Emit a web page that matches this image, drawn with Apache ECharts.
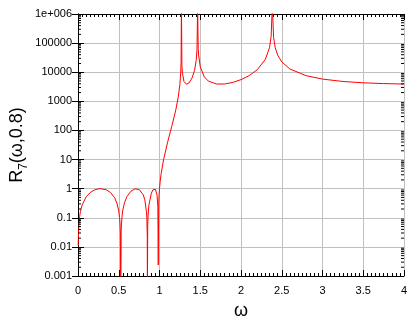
<!DOCTYPE html>
<html><head><meta charset="utf-8">
<script src="https://cdn.jsdelivr.net/npm/echarts@6/dist/echarts.min.js"></script>
<style>html,body{margin:0;padding:0;background:#fff}#c{width:420px;height:320px}</style>
</head><body><div id="c"></div>
<script>
// omega values (x) and |R_7(omega,0.8)| values (y)
const omega = [0.002,0.01,0.02,0.03,0.05,0.1,0.15,0.2,0.25,0.28,0.3,0.35,0.4,0.45,0.48,0.5,0.51,0.515,0.52,0.5243,0.53,0.54,0.55,0.57,0.6,0.65,0.7,0.72,0.75,0.8,0.82,0.84,0.845,0.85,0.8516,0.855,0.86,0.87,0.9,0.92,0.94,0.95,0.96,0.97,0.98,0.985,0.99,0.995,1.0,1.01,1.02,1.05,1.1,1.15,1.2,1.23,1.25,1.26,1.265,1.2689,1.275,1.28,1.3,1.33,1.35,1.36,1.4,1.43,1.45,1.46,1.4678,1.475,1.48,1.5,1.55,1.6,1.7,1.8,1.9,2.0,2.1,2.2,2.3,2.35,2.37,2.3842,2.4,2.42,2.45,2.5,2.6,2.8,3.0,3.25,3.5,3.75,4.0];
const R7 = [0.011,0.055,0.11,0.164,0.271,0.523,0.737,0.895,0.983,0.997,0.989,0.908,0.738,0.486,0.302,0.169,0.101,0.066,0.030,0.0002,0.041,0.112,0.184,0.327,0.534,0.823,0.984,0.994,0.938,0.621,0.412,0.161,0.093,0.023,0.0002,0.049,0.122,0.270,0.699,0.915,0.994,0.949,0.824,0.598,0.242,0.0024,0.277,0.610,1.0,1.98,3.27,9.91,39.6,136,509,1400,3846,9431,23137,2e6,17068,10086,4823,3867,4016,4233,6369,11594,25266,58658,2e6,65135,38862,15400,6872,4958,3931,3942,4473,5569,7654,12221,27975,70503,171634,2e6,156762,69963,38718,22691,12926,7590,5804,4809,4324,4068,3933];
const xTickValues = [0,0.5,1,1.5,2,2.5,3,3.5,4];
const yTickLabels = ['0.001','0.01','0.1','1','10','100','1000','10000','100000','1e+006'];

const yMinorTicks = [];
for (let d = -3; d < 6; d++) for (let k = 2; k <= 9; k++) yMinorTicks.push([0, +(k * Math.pow(10, d)).toPrecision(3)]);

const FONT = 'Liberation Sans, Arial, sans-serif';
const chart = echarts.init(document.getElementById('c'), null, {renderer: 'canvas'});

const xCommon = {
  type: 'value', min: 0, max: 4, interval: 0.5,
  axisLine: {show: true, lineStyle: {color: '#000', width: 1}},
  axisTick: {show: true, inside: true, length: 6, lineStyle: {color: '#000'}},
  minorTick: {show: true, splitNumber: 10, length: 3, lineStyle: {color: '#000'}},
};
const yCommon = {
  type: 'log', logBase: 10, min: 0.001, max: 1e6, interval: 1,
  axisLine: {show: true, lineStyle: {color: '#000', width: 1}},
  axisTick: {show: true, inside: true, length: 6, lineStyle: {color: '#000'}},
};

chart.setOption({
  animation: false,
  backgroundColor: '#fff',
  grid: {left: 78, right: 16, top: 14, bottom: 44, containLabel: false, outerBoundsMode: 'none'},
  xAxis: [
    Object.assign({}, xCommon, {
      position: 'bottom',
      axisLabel: {show: true, color: '#000', fontFamily: FONT, fontSize: 11, margin: 9,
        formatter: v => { const i = xTickValues.indexOf(+v.toFixed(2)); return i < 0 ? '' : String(xTickValues[i]); }},
      splitLine: {show: true, lineStyle: {color: '#c0c0c0', width: 1}},
      name: 'ω', nameLocation: 'middle', nameGap: 26, nameMoveOverlap: false,
      nameTextStyle: {color: '#000', fontFamily: FONT, fontSize: 18}
    }),
    Object.assign({}, xCommon, {position: 'top', axisLabel: {show: false}, splitLine: {show: false}})
  ],
  yAxis: [
    Object.assign({}, yCommon, {
      position: 'left',
      axisLabel: {show: true, color: '#000', fontFamily: FONT, fontSize: 11, margin: 6,
        formatter: v => yTickLabels[Math.round(Math.log10(v)) + 3] || ''},
      splitLine: {show: true, lineStyle: {color: '#c0c0c0', width: 1}},
      name: '{m|R}{s|7}{m|(ω,0.8)}', nameLocation: 'middle', nameGap: 50, nameMoveOverlap: false,
      nameTextStyle: {color: '#000', fontFamily: FONT, fontSize: 18,
        rich: {
          m: {fontFamily: FONT, fontSize: 18, color: '#000', lineHeight: 20, verticalAlign: 'top'},
          s: {fontFamily: FONT, fontSize: 12, color: '#000', lineHeight: 12, padding: [10, 0, 0, 0], verticalAlign: 'top'}
        }}
    }),
    Object.assign({}, yCommon, {position: 'right', axisLabel: {show: false}, splitLine: {show: false}})
  ],
  series: [
    {
      type: 'line',
      data: omega.map((w, i) => [w, R7[i]]),
      showSymbol: false, symbol: 'none', clip: true,
      lineStyle: {color: '#ff0000', width: 1},
      z: 5
    },
    {
      type: 'custom',
      data: yMinorTicks,
      silent: true, clip: false, z: 6,
      renderItem: (params, api) => {
        const y = api.coord([0, api.value(1)])[1];
        const cs = params.coordSys;
        return {type: 'group', children: [
          {type: 'line', shape: {x1: cs.x, y1: y, x2: cs.x + 3, y2: y}, style: {stroke: '#000', lineWidth: 1}},
          {type: 'line', shape: {x1: cs.x + cs.width, y1: y, x2: cs.x + cs.width - 3, y2: y}, style: {stroke: '#000', lineWidth: 1}}
        ]};
      }
    }
  ]
});
</script>
</body></html>
